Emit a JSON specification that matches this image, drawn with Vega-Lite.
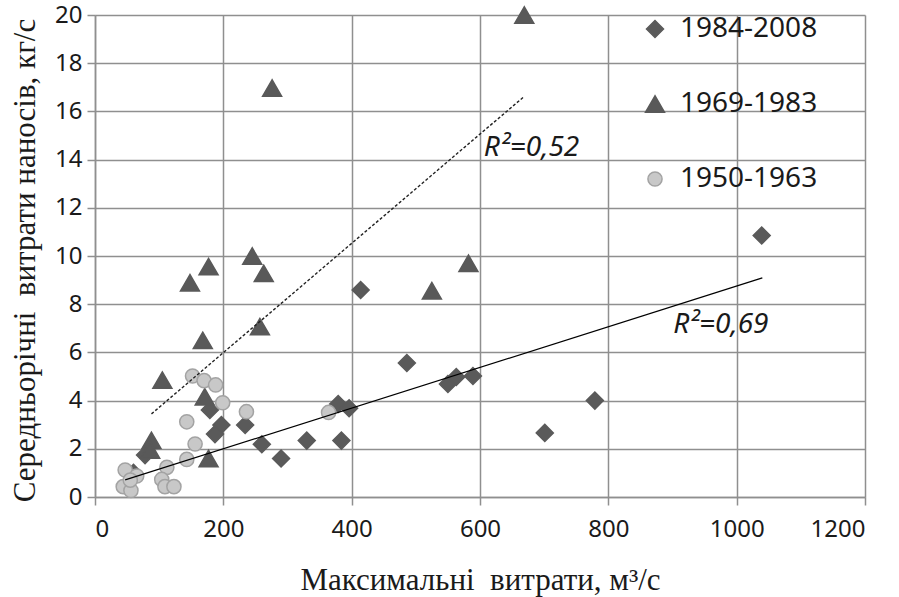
{
  "$schema": "https://vega.github.io/schema/vega-lite/v6.json",
  "width": 770,
  "height": 482,
  "autosize": {"type": "none"},
  "padding": {"left": 95, "top": 15, "right": 34, "bottom": 100},
  "background": "white",
  "datasets": {
    "pts": [
      {"x": 1039, "y": 10.85, "s": "1984-2008"},
      {"x": 414, "y": 8.59, "s": "1984-2008"},
      {"x": 486, "y": 5.56, "s": "1984-2008"},
      {"x": 550, "y": 4.69, "s": "1984-2008"},
      {"x": 563, "y": 4.98, "s": "1984-2008"},
      {"x": 589, "y": 5.02, "s": "1984-2008"},
      {"x": 779, "y": 4.0, "s": "1984-2008"},
      {"x": 701, "y": 2.66, "s": "1984-2008"},
      {"x": 330, "y": 2.34, "s": "1984-2008"},
      {"x": 384, "y": 2.34, "s": "1984-2008"},
      {"x": 379, "y": 3.86, "s": "1984-2008"},
      {"x": 396, "y": 3.68, "s": "1984-2008"},
      {"x": 290, "y": 1.6, "s": "1984-2008"},
      {"x": 179, "y": 3.61, "s": "1984-2008"},
      {"x": 197, "y": 2.99, "s": "1984-2008"},
      {"x": 187, "y": 2.61, "s": "1984-2008"},
      {"x": 234, "y": 2.99, "s": "1984-2008"},
      {"x": 260, "y": 2.19, "s": "1984-2008"},
      {"x": 78, "y": 1.74, "s": "1984-2008"},
      {"x": 60, "y": 1.0, "s": "1984-2008"},
      {"x": 669, "y": 20.0, "s": "1969-1983"},
      {"x": 276, "y": 16.97, "s": "1969-1983"},
      {"x": 245, "y": 10.0, "s": "1969-1983"},
      {"x": 263, "y": 9.28, "s": "1969-1983"},
      {"x": 177, "y": 9.56, "s": "1969-1983"},
      {"x": 148, "y": 8.89, "s": "1969-1983"},
      {"x": 257, "y": 7.07, "s": "1969-1983"},
      {"x": 168, "y": 6.5, "s": "1969-1983"},
      {"x": 582, "y": 9.7, "s": "1969-1983"},
      {"x": 525, "y": 8.56, "s": "1969-1983"},
      {"x": 105, "y": 4.85, "s": "1969-1983"},
      {"x": 171, "y": 4.16, "s": "1969-1983"},
      {"x": 88, "y": 2.35, "s": "1969-1983"},
      {"x": 86, "y": 1.95, "s": "1969-1983"},
      {"x": 177, "y": 1.6, "s": "1969-1983"},
      {"x": 152, "y": 5.02, "s": "1950-1963"},
      {"x": 170, "y": 4.83, "s": "1950-1963"},
      {"x": 188, "y": 4.65, "s": "1950-1963"},
      {"x": 199, "y": 3.91, "s": "1950-1963"},
      {"x": 236, "y": 3.54, "s": "1950-1963"},
      {"x": 143, "y": 3.12, "s": "1950-1963"},
      {"x": 156, "y": 2.2, "s": "1950-1963"},
      {"x": 143, "y": 1.56, "s": "1950-1963"},
      {"x": 47, "y": 1.12, "s": "1950-1963"},
      {"x": 65, "y": 0.87, "s": "1950-1963"},
      {"x": 44, "y": 0.43, "s": "1950-1963"},
      {"x": 56, "y": 0.27, "s": "1950-1963"},
      {"x": 55, "y": 0.7, "s": "1950-1963"},
      {"x": 112, "y": 1.23, "s": "1950-1963"},
      {"x": 104, "y": 0.73, "s": "1950-1963"},
      {"x": 109, "y": 0.43, "s": "1950-1963"},
      {"x": 123, "y": 0.43, "s": "1950-1963"},
      {"x": 364, "y": 3.51, "s": "1950-1963"}
    ],
    "trendA": [
      {"x": 47, "y": 0.71},
      {"x": 1040, "y": 9.09}
    ],
    "trendB": [
      {"x": 88, "y": 3.45},
      {"x": 668, "y": 16.6}
    ],
    "labels": [
      {"x": 606, "y": 14.48, "t": "R²=0,52"},
      {"x": 901, "y": 7.14, "t": "R²=0,69"}
    ]
  },
  "encoding": {
    "x": {
      "field": "x",
      "type": "quantitative",
      "scale": {"domain": [0, 1200], "nice": false, "zero": false},
      "axis": {
        "values": [0, 200, 400, 600, 800, 1000, 1200],
        "format": "d",
        "title": "Максимальні \u00a0витрати, м³/с",
        "titleX": 385,
        "titleY": 83,
        "titleBaseline": "middle",
        "titleAlign": "center",
        "labelPadding": 12
      }
    },
    "y": {
      "field": "y",
      "type": "quantitative",
      "scale": {"domain": [0, 20], "nice": false, "zero": false},
      "axis": {
        "values": [0, 2, 4, 6, 8, 10, 12, 14, 16, 18, 20],
        "format": "d",
        "title": "Середньорічні \u00a0витрати наносів, кг/с",
        "titleX": -70,
        "titleY": 245,
        "titleAngle": -90,
        "titleBaseline": "middle",
        "titleAlign": "center",
        "labelPadding": 5
      }
    }
  },
  "layer": [
    {
      "data": {"name": "pts"},
      "mark": {"type": "point", "filled": true, "opacity": 1, "strokeWidth": 1.5},
      "encoding": {
        "shape": {
          "field": "s", "type": "nominal",
          "scale": {"domain": ["1984-2008", "1969-1983", "1950-1963"], "range": ["diamond", "triangle-up", "circle"]},
          "legend": {"title": null}
        },
        "color": {
          "field": "s", "type": "nominal",
          "scale": {"domain": ["1984-2008", "1969-1983", "1950-1963"], "range": ["#5a5a5a", "#595959", "#c8c8c8"]},
          "legend": {"title": null}
        },
        "stroke": {
          "field": "s", "type": "nominal",
          "scale": {"domain": ["1984-2008", "1969-1983", "1950-1963"], "range": ["#5a5a5a", "#595959", "#a3a3a3"]},
          "legend": {"title": null}
        },
        "size": {
          "field": "s", "type": "nominal",
          "scale": {"type": "ordinal", "domain": ["1984-2008", "1969-1983", "1950-1963"], "range": [289, 360, 200]},
          "legend": {"title": null}
        }
      }
    },
    {
      "data": {"name": "trendA"},
      "mark": {"type": "line", "color": "#000000", "strokeWidth": 1.2}
    },
    {
      "data": {"name": "trendB"},
      "mark": {"type": "line", "color": "#222222", "strokeWidth": 1.4, "strokeDash": [3, 2]}
    },
    {
      "data": {"name": "labels"},
      "mark": {"type": "text", "align": "left", "baseline": "middle", "font": "Noto Sans", "fontStyle": "italic", "fontSize": 28, "color": "#1a1a1a"},
      "encoding": {"text": {"field": "t", "type": "nominal"}}
    }
  ],
  "config": {
    "view": {"stroke": null},
    "axis": {
      "grid": true,
      "gridColor": "#8f8f8f",
      "gridWidth": 1.5,
      "gridOpacity": 1,
      "domainColor": "#8f8f8f",
      "domainWidth": 1.5,
      "tickColor": "#8f8f8f",
      "tickWidth": 1.5,
      "tickSize": 8,
      "labelFont": "Noto Sans",
      "labelFontSize": 24,
      "labelColor": "#1a1a1a",
      "titleFont": "Liberation Serif",
      "titleFontSize": 31,
      "titleFontWeight": "normal",
      "titleColor": "#1a1a1a"
    },
    "legend": {
      "orient": "none",
      "legendX": 546,
      "legendY": 0,
      "padding": 0,
      "labelFont": "Noto Sans",
      "labelFontSize": 28,
      "labelColor": "#1a1a1a",
      "labelOffset": 11,
      "rowPadding": 47,
      "symbolOpacity": 1,
      "symbolStrokeWidth": 1.5
    }
  }
}
